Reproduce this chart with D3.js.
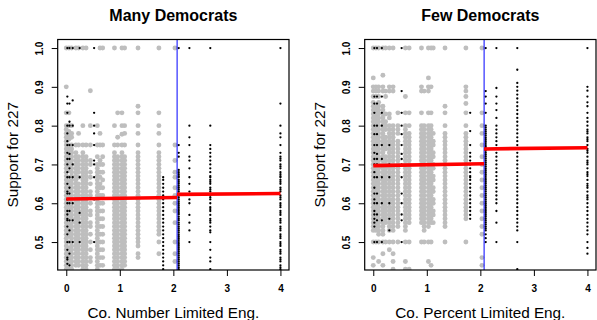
<!DOCTYPE html>
<html>
<head>
<meta charset="utf-8">
<script src="https://cdn.jsdelivr.net/npm/d3@7"></script>
<style>
  body { margin: 0; background: #fff; }
  svg { display: block; }
  text { font-family: "Liberation Sans", Arial, Helvetica, sans-serif; }
</style>
</head>
<body>
<svg id="chart" width="597" height="320"></svg>
<script>
// ---- labels and ticks ----
const panelTitles = ["Many Democrats", "Few Democrats"];
const xAxisTitles = ["Co. Number Limited Eng.", "Co. Percent Limited Eng."];
const yAxisTitle = "Support for 227";
const xTicks = [0, 1, 2, 3, 4];
const yTicks = [0.5, 0.6, 0.7, 0.8, 0.9, 1.0];

// threshold of the discontinuity design
const cutoff = 2.07;

// fitted levels on each side of the cutoff: [x, support]
const fitManyBelow = [[0, 0.611], [2.07, 0.615]];
const fitManyAbove = [[2.07, 0.623], [4, 0.625]];
const fitFewBelow = [[0, 0.697], [2.07, 0.702]];
const fitFewAbove = [[2.07, 0.740], [4, 0.743]];

// counties by column: [x value, support values in percent]
const grayMany = [
  [0.00, "100 90 83.3 80 79 78 77 76 75 74 73 72 71 70 69 68 67 66 65 64 63 62 61 60 59 58 57 56 55 54 53 52 51 50 49 48 47 46 45 44 43"],
  [0.05, "100 83.3 80 78.5 77.5 76.5 75 74.5 73.5 72.5 71.4 70.5 69.5 68.5 66.7 65.5 64.5 63.5 62.5 61.5 60.5 59.5 58.5 57.1 56.5 55.5 54.5 53.5 52.5 51.5 50 48.5 47.5 46.5 45.5 44.5 43.5"],
  [0.10, "100 80 78 77 75 74 73 72 71 70 69 68 67 66 65 64 63 62 61 60 59 58 57 56 55 54 53 52 51 50 49 48 47 46 45 44 43"],
  [0.18, "100 75 73 72 71 70 69 68 67 66 65 64 63 62 61 60 59 58 57 56 55 54 53 52 51 50 49 48 47 46 45 44"],
  [0.23, "100 78 75 72 71 70 69 68 66.7 65 64 63 62 61 60 59 58 57 56 55 54 53 52 51 50 49 48 47 46 45 44"],
  [0.31, "100 80 75 73 72 71 70 69 68 67 66 65 64 63 62 61 60 59 58 57 56 55 54 53 52 51 50 49 48 47 46 45 44 43"],
  [0.37, "100 75 72 71 70 69 68 67 66 65 64 63 62 61 60 59 58 57 56 55 54 53 52 51 50 49 48 47 46 45 44 43"],
  [0.45, "89 80 75 71 70 68 66.7 65 63 62 60 58 57 55 54 52 50 48 46 45"],
  [0.58, "80 75 72 70 69 68 67 66 65 64 63 62 61 60 59 58 57 56 55 54 53 52 51 50 49 48 47 46 45 44 43"],
  [0.63, "100 78 75 71 70 68 66.7 65 64 62 60 58 56 54 52 50 48 46 44"],
  [0.68, "100 75 72 70 68 66 64 62 60 58 56 54 52 50 48 46 44"],
  [0.90, "100 80 75 73 72 71 70 69 68 67 66 65 64 63 62 61 60 59 58 57 56 55 54 53 52 51 50 49 48 47 46 45 44 43"],
  [0.96, "83.3 77 75 72 71 70 69 68 67 66 65 64 63 62 61 60 59 58 57 56 55 54 53 52 51 50 49 48 47 46 45 44 43"],
  [1.04, "100 83.3 80 77.8 75 73 72 71 70 69 68 67 66 65 64 63 62 61 60 59 58 57 56 55 54 53 52 51 50 49 48 47 46 45 44 43"],
  [1.09, "100 80 78 75 72 71 70 69 68 67 66 65 64 63 62 61 60 59 58 57 56 55 54 53 52 51 50 49 48 47 46 45 44"],
  [1.34, "100 85 83.3 80 78 75 73 72 71 70 69 68 67 66 65 64 63 62 61 60 59 58 57 56 55 54 53 52 51 50 49 47 46"],
  [1.73, "100 83.3 80 78 75 73 72 71 70 69 68 67 66 65 64 63 62 61 60 59 58 57 56 55 54 53 52 50 47"],
  [2.03, "100 75 71 68 66.7 64 62 60 58 55 50 47 45"]
];

const blackMany = [
  [0.02, "100 87.5 85.7 83.3 80 78 76 75 73 71.4 70 68 66.7 65 63 62.5 61 60 58 57.1 56 55.6 54 52 50 48 46 45.5 44.4"],
  [0.06, "100 85.7 81 80 75 72.7 71.4 69 66.7 64 62.5 60 58 55.6 53 50 47 44"],
  [0.12, "100 86.5 80 75 70 66.7 60 55.6 50"],
  [0.25, "100 66.7 57.5 55 50"],
  [0.52, "100 83.3 80 78 75 71 70 66.7 61 50"],
  [1.81, "66.7 66 65 64 63 62 61.5 61 60 59 58 57 56 55 54 53 52 51 50 49 48 47 46 45 44 43"],
  [2.10, "100 75 73 72 68.6 68 67.5 67 66.7 66 65.5 65 64.5 64 63.5 63 62.5 62 61.5 61 60.5 60 59.5 59 58.5 58 57.5 57.1 56.5 56 55.6 55 54.5 54 53.5 53 52.5 52 51.5 51 50.5 50 49.5 49 48.5 48 47.5 47 46.5 46 45.5 45 44.5 44 43.5 43"],
  [2.30, "100 80 77 75 72 71 69 66.7 65 63 61 60 57 55 53 50"],
  [2.69, "100 80 75 74 73 72 71 70 69 68 67 66.7 66 65.5 65 64 63.5 63 62 61.5 61 60 59 58.5 58 57 56 55.5 55 54 53 52.5 50 48 46 45 43"],
  [4.00, "100 85.7 80 78 77 75 73 72 71.5 71 70 69.5 69 68 67.5 67 66.7 66 65.5 65 64 63.5 63 62 61.5 61 60 59.5 59 58 57.5 57 56 55.5 55 54 53.5 53 52 51.5 51 50 49.5 49 48 47.5 47 46 45.5 45 44 43.5 43"]
];

const grayFew = [
  [0.00, "100 92.3 90 88.9 87.5 86 85 84 83 82 81 80 79 78 77 76 75 74 73 72 71 70 69 68 67 66 65 64 63 62 61 60 59 58 57 56 55 54 53 50 46 44"],
  [0.05, "100 90 88.9 87.5 85 84 83 82 81 80 79 78 77 76 75 74 73 72 71 70 69 68 67 66 65 64 63 62 61 60 59 58 57 56 55 54 53 50"],
  [0.10, "100 90 88.9 87.5 86 85 84 83 82 81 80 79 78 77 76 75 74 73 72 71 70 69 68 67 66 65 64 63 62 61 60 59 58 57 56 55 54 53 52 50 45"],
  [0.18, "100 93 90 88.9 85 84 83 82 81 80 79 78 77 76 75 74 73 72 71 70 69 68 67 66 65 64 63 62 61 60 59 58 57 56 55 54 53 52 50 47 44"],
  [0.23, "100 88.9 87.5 83 81 80 79 77 76 75 74 72 71 70 69 68 67 66 65 64 63 62 61 60 59 58 57 56 55 50"],
  [0.30, "100 90 88.9 83 82 80 79 78 77 76 75 74 73 72 71 70 69 68 67 66 65 64 63 62 61 60 59 58 57 56 55 54 53 50 48"],
  [0.37, "100 90 88.9 80 79 78 77 76 75 74 73 72 71 70 69 68 67 66 65 64 63 62 61 60 59 58 57 56 55 54 53 50 47 45 43"],
  [0.46, "83.3 80 79 78 76 75 74 73 72 71 70 69 68 67 66 65 64 63 62 61 60 59 58 57 56 55 54 50"],
  [0.60, "100 87.5 83.3 80 79 78 77 76 75 74 73 72 71 70 69 68 67 66 65 64 63 62 61 60 59 58 57 56 55 54 53 50 45 43"],
  [0.67, "100 83.3 80 78 77 76 75 74 73 72 71 70 69 68 67 66 65 64 63 62 61 60 59 58 57 56 55 50 43"],
  [0.90, "100 90 88.9 83.3 80 79 78 77 76 75 74 73 72 71 70 69 68 67 66 65 64 63 62 61 60 59 58 57 56 55 50"],
  [0.95, "88.9 80 79 78 77 76 75 74 73 72 71 70 69 68 67 66 65 64 63 62 61 60 59 58 57 56 55 54 53 50"],
  [1.03, "100 92.3 90 88.9 83.3 80 79 78 77 76 75 74 73 72 71 70 69 68 67 66 65 64 63 62 61 60 59 58 57 56 55 54 50 45"],
  [1.08, "100 90 83.3 80 79 78 77 76 75 74 73 72 71 70 69 68 67 66 65 64 63 62 61 60 59 58 57 56 55 50 44"],
  [1.12, "100 78 76 75 73 72 70 69 67 66 64 63 61 60 58 57 55"],
  [1.34, "100 85 83.3 80 78 77 76 75 74 73 72 71 70 69 68 67 66 65 64 63 62 61 60 59 58 57 56 55 54 50"],
  [1.73, "100 90 88.9 87.5 85.7 83.3 80 78 77 76 75 74 73 72 71 70 69 68 67 66 65 64 63 62 61 60 59 58 57 56 50"],
  [2.03, "100 83.3 80 78 75 72 70 68 66 64 62 60 58 56 54 52 46 44"]
];

const blackFew = [
  [0.02, "100 87.5 85.7 83.3 80 77.8 75 73 71.4 70 68 66.7 64 62.5 61 60 58 57.1 56 55 54 50"],
  [0.07, "100 87.5 85.7 80 77.8 75 72.7 71.4 70 66.7 62.5 60 57.1 55.6 50"],
  [0.16, "100 87.5 83.3 80 75 71.4 66.7 60 55.6 50"],
  [0.30, "75 70 66.7 60 56 53"],
  [0.53, "100 88.9 83.3 80 77.8 75 72.7 71.4 70 66.7 62.5 60 57.1 55.6 50"],
  [1.81, "83.3 78.6 75 73 72 71 70 69 68 67 66.7 66 65 64 63 62 61 60 59 58 57 56"],
  [2.10, "100 88.9 87.5 85.7 83.3 80 79.5 79 78.5 78 77.5 77 76.5 76 75.5 75 74.5 74 73.5 73 72.5 72 71.5 71 70.5 70 69.5 69 68.5 68 67.5 67 66.5 66 65.5 65 64.5 64 63.5 63 62.5 62 61.5 61 60.5 60 59.5 59 58.5 58 57.5 57 56.5 56 55.5 55 54.5 54 53.5 53 52 51 50"],
  [2.30, "100 89.7 87.5 85.7 84 82 80 79 78 77 76 75 74 73 72 71 70 69 68 67 66 65 64 63 62 61 60 58 55 50"],
  [2.69, "100 94.4 91 90 89 88 87 86 85 84 83 82 81 80 79 78 77 76 75 74 73 72 71 70 69 68 67 66 65 64 63 62 61 60 59 58 57 56 55 54 53 50 43"],
  [4.00, "100 90 89 87.5 86 85 83.3 82 81 80 79 78.5 78 77 76.5 76 75 74 73.5 73 72 71 70.5 70 69 68 67.5 67 66 65 64.5 64 63 62 61.5 61 60 59 58 57 56 55 54 53 52 50 48.5 47"]
];

// ---- layout ----
const svg = d3.select("#chart");
const plotW = 231.3;
const plotTop = 39.5, plotBottom = 270;

const panels = [
  { x0: 57.7, title: panelTitles[0], xTitle: xAxisTitles[0], gray: grayMany, black: blackMany, fits: [fitManyBelow, fitManyAbove] },
  { x0: 364.7, title: panelTitles[1], xTitle: xAxisTitles[1], gray: grayFew, black: blackFew, fits: [fitFewBelow, fitFewAbove] }
];

const y = d3.scaleLinear().domain([0.428, 1.022]).range([plotBottom, plotTop]);

const toPoints = cols => cols.flatMap(([cx, ys]) =>
  ys.trim().split(/\s+/).map(v => ({ x: cx, y: +v / 100 })));

panels.forEach((p, i) => {
  const x = d3.scaleLinear().domain([-0.16, 4.16]).range([p.x0, p.x0 + plotW]);
  const g = svg.append("g");

  const clipId = "clip" + i;
  svg.append("clipPath").attr("id", clipId)
    .append("rect")
    .attr("x", p.x0).attr("y", plotTop)
    .attr("width", plotW).attr("height", plotBottom - plotTop);

  const plot = g.append("g").attr("clip-path", `url(#${clipId})`);

  // counties below / above the threshold
  plot.append("g").selectAll("circle")
    .data(toPoints(p.gray)).join("circle")
    .attr("cx", d => x(d.x)).attr("cy", d => y(d.y))
    .attr("r", 2.45).attr("fill", "#bebebe");

  plot.append("g").selectAll("circle")
    .data(toPoints(p.black)).join("circle")
    .attr("cx", d => x(d.x)).attr("cy", d => y(d.y))
    .attr("r", 1.15).attr("fill", "#000");

  // threshold line
  plot.append("line")
    .attr("x1", x(cutoff)).attr("x2", x(cutoff))
    .attr("y1", plotTop).attr("y2", plotBottom)
    .attr("stroke", "#0000ff").attr("stroke-width", 1);

  // fitted levels
  const line = d3.line().x(d => x(d[0])).y(d => y(d[1]));
  p.fits.forEach(seg => {
    plot.append("path").datum(seg)
      .attr("d", line)
      .attr("fill", "none")
      .attr("stroke", "#ff0000")
      .attr("stroke-width", 3.6);
  });

  // plot frame
  g.append("rect")
    .attr("x", p.x0).attr("y", plotTop)
    .attr("width", plotW).attr("height", plotBottom - plotTop)
    .attr("fill", "none").attr("stroke", "#000").attr("stroke-width", 1.2);

  // x axis
  const xAxis = g.append("g")
    .attr("transform", `translate(0,${plotBottom})`)
    .call(d3.axisBottom(x).tickValues(xTicks).tickSize(6).tickPadding(9).tickFormat(d3.format("d")));
  xAxis.select(".domain").remove();
  xAxis.selectAll("line").attr("stroke", "#000");
  xAxis.selectAll("text")
    .attr("fill", "#000")
    .style("font-family", "'Liberation Sans', Arial, sans-serif")
    .style("font-size", "10px").style("font-weight", "bold");

  // y axis with labels turned parallel to the axis
  const yAxis = g.append("g")
    .attr("transform", `translate(${p.x0},0)`)
    .call(d3.axisLeft(y).tickValues(yTicks).tickSize(6).tickFormat(d3.format(".1f")));
  yAxis.select(".domain").remove();
  yAxis.selectAll("line").attr("stroke", "#000");
  yAxis.selectAll("text")
    .attr("fill", "#000")
    .attr("x", 0).attr("y", 0).attr("dy", null)
    .attr("text-anchor", "middle")
    .attr("transform", "translate(-14.5,0) rotate(-90)")
    .style("font-family", "'Liberation Sans', Arial, sans-serif")
    .style("font-size", "10px").style("font-weight", "bold");

  // panel title
  g.append("text")
    .attr("x", p.x0 + plotW / 2).attr("y", 20.5)
    .attr("text-anchor", "middle")
    .style("font-size", "16px").style("font-weight", "bold")
    .text(p.title);

  // axis titles
  g.append("text")
    .attr("x", p.x0 + plotW / 2).attr("y", 318)
    .attr("text-anchor", "middle")
    .style("font-size", "15.3px")
    .text(p.xTitle);

  g.append("text")
    .attr("transform", `translate(${p.x0 - 39.5},${(plotTop + plotBottom) / 2}) rotate(-90)`)
    .attr("text-anchor", "middle")
    .style("font-size", "15.3px")
    .text(yAxisTitle);
});
</script>
</body>
</html>
